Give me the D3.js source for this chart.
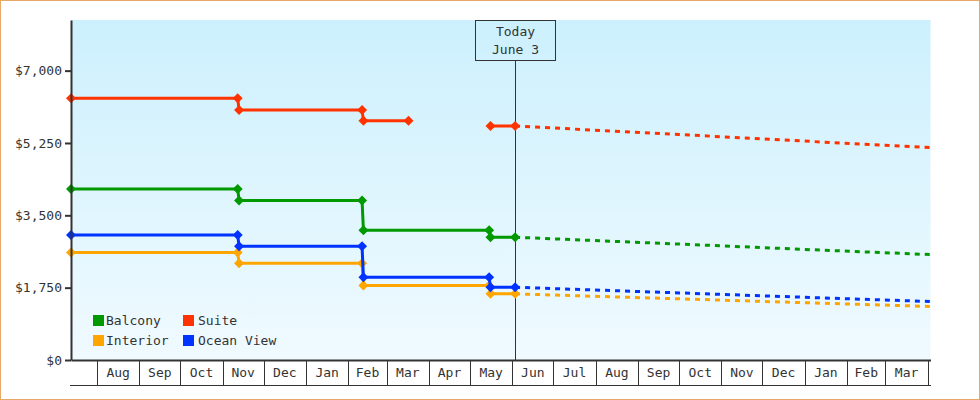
<!DOCTYPE html>
<html>
<head>
<meta charset="utf-8">
<script src="https://cdn.jsdelivr.net/npm/d3@7"></script>
<style>
  html, body { margin: 0; padding: 0; background: #fff; }
  svg { display: block; }
  text { font-family: "DejaVu Sans Mono", monospace; font-size: 13px; fill: #333; }
</style>
</head>
<body>
<svg id="chart" width="980" height="400"></svg>
<script>
// ---- data ----
const historyDates = ["2013-07-13","2013-11-12","2013-11-13","2014-02-11","2014-02-12","2014-05-15","2014-05-16","2014-06-03"];
const balcony      = [4135, 4135, 3860, 3860, 3140, 3140, 2970, 2970];
const interior     = [2600, 2600, 2340, 2340, 1800, 1800, 1600, 1600];
const oceanView    = [3025, 3025, 2750, 2750, 2000, 2000, 1760, 1760];
const suiteDates   = ["2013-07-13","2013-11-12","2013-11-13","2014-02-11","2014-02-12","2014-03-17","2014-04-15","2014-05-16","2014-06-03"];
const suite        = [6330, 6330, 6050, 6050, 5790, 5790, null, 5660, 5660];

const projectionDates = ["2014-06-03","2014-10-01","2015-01-01","2015-04-03"];
const balconyProj  = [2970, 2805, 2675, 2550];
const interiorProj = [1600, 1480, 1386, 1295];
const oceanProj    = [1760, 1623, 1517, 1415];
const suiteProj    = [5660, 5455, 5295, 5140];

const seriesNames  = ["Suite", "Balcony", "Interior", "Ocean View"];
const seriesColors = ["#ff3300", "#009900", "#ffa500", "#0033ff"];
const legendOrder  = ["Balcony", "Suite", "Interior", "Ocean View"];

const yTicks = [0, 1750, 3500, 5250, 7000];
const monthStarts = ["2013-08-01","2013-09-01","2013-10-01","2013-11-01","2013-12-01","2014-01-01","2014-02-01","2014-03-01","2014-04-01","2014-05-01","2014-06-01","2014-07-01","2014-08-01","2014-09-01","2014-10-01","2014-11-01","2014-12-01","2015-01-01","2015-02-01","2015-03-01","2015-04-01"];
const monthLabels = ["Aug","Sep","Oct","Nov","Dec","Jan","Feb","Mar","Apr","May","Jun","Jul","Aug","Sep","Oct","Nov","Dec","Jan","Feb","Mar"];
const domainStart = "2013-07-13", domainEnd = "2015-04-03";
const todayDate = "2014-06-03";
const todayLabel = ["Today", "June 3"];

// ---- setup ----
const parse = d3.timeParse("%Y-%m-%d");
const svg = d3.select("#chart");
const L = 71, R = 930.5, T = 20, B = 360;

const x = d3.scaleTime().domain([parse(domainStart), parse(domainEnd)]).range([L, R]);
const y = d3.scaleLinear().domain([0, 8225]).range([B, T]);

const defs = svg.append("defs");
const grad = defs.append("linearGradient").attr("id", "bg").attr("x1", 0).attr("y1", 0).attr("x2", 0).attr("y2", 1);
grad.append("stop").attr("offset", "0%").attr("stop-color", "#ccf0fd");
grad.append("stop").attr("offset", "100%").attr("stop-color", "#f0faff");

// outer border
svg.append("rect").attr("x", 0.5).attr("y", 0.5).attr("width", 979).attr("height", 399)
  .attr("fill", "#fff").attr("stroke", "#e8a866").attr("stroke-width", 1);

// plot background
svg.append("rect").attr("x", L).attr("y", T).attr("width", R - L).attr("height", B - T)
  .attr("fill", "url(#bg)");

// today line & box
const tx = Math.round(x(parse(todayDate))) + 0.5;
svg.append("line").attr("x1", tx).attr("x2", tx).attr("y1", 60).attr("y2", B)
  .attr("stroke", "#333").attr("stroke-width", 1).attr("shape-rendering", "crispEdges");
svg.append("rect").attr("x", tx - 40).attr("y", T + 0.5).attr("width", 80).attr("height", 40)
  .attr("fill", "none").attr("stroke", "#333").attr("stroke-width", 1).attr("shape-rendering", "crispEdges");
svg.selectAll("text.today").data(todayLabel).enter().append("text").attr("class", "today")
  .attr("x", tx).attr("y", (d, i) => 36 + i * 18).attr("text-anchor", "middle").text(d => d);

// series
const hist = {
  "Suite": suiteDates.map((d, i) => ({date: parse(d), v: suite[i]})),
  "Balcony": historyDates.map((d, i) => ({date: parse(d), v: balcony[i]})),
  "Interior": historyDates.map((d, i) => ({date: parse(d), v: interior[i]})),
  "Ocean View": historyDates.map((d, i) => ({date: parse(d), v: oceanView[i]}))
};
const proj = {
  "Suite": projectionDates.map((d, i) => ({date: parse(d), v: suiteProj[i]})),
  "Balcony": projectionDates.map((d, i) => ({date: parse(d), v: balconyProj[i]})),
  "Interior": projectionDates.map((d, i) => ({date: parse(d), v: interiorProj[i]})),
  "Ocean View": projectionDates.map((d, i) => ({date: parse(d), v: oceanProj[i]}))
};
const color = d3.scaleOrdinal().domain(seriesNames).range(seriesColors);

const line = d3.line().defined(d => d.v != null).x(d => x(d.date)).y(d => y(d.v));
const diamond = "M0,-5L5,0L0,5L-5,0Z";

seriesNames.forEach(name => {
  const g = svg.append("g");
  g.append("path").datum(proj[name]).attr("d", line).attr("fill", "none")
    .attr("stroke", color(name)).attr("stroke-width", 3).attr("stroke-dasharray", "5,5");
  g.append("path").datum(hist[name]).attr("d", line).attr("fill", "none")
    .attr("stroke", color(name)).attr("stroke-width", 3);
  g.selectAll("path.m").data(hist[name].filter(d => d.v != null)).enter().append("path")
    .attr("class", "m").attr("d", diamond)
    .attr("transform", d => `translate(${x(d.date)},${y(d.v)})`)
    .attr("fill", color(name));
});

// y axis
const yAxis = svg.append("g").attr("transform", `translate(${L},0)`)
  .call(d3.axisLeft(y).tickValues(yTicks).tickSize(6).tickSizeOuter(0).tickPadding(3)
    .tickFormat(d => "$" + d3.format(",")(d)));
yAxis.select(".domain").attr("stroke", "#333").attr("stroke-width", 2);
yAxis.selectAll(".tick line").attr("stroke", "#333").attr("stroke-width", 2);
yAxis.selectAll("text").attr("fill", "#333").style("font-family", "DejaVu Sans Mono").style("font-size", "13px");

// x axis: month cells
const xAxis = svg.append("g").attr("transform", `translate(0,${B})`)
  .call(d3.axisBottom(x).tickValues(monthStarts.map(parse)).tickSize(25).tickSizeOuter(0).tickFormat(""));
xAxis.select(".domain").attr("stroke", "#333").attr("stroke-width", 2);
xAxis.selectAll(".tick line").attr("stroke", "#333").attr("stroke-width", 1).attr("shape-rendering", "crispEdges");

svg.append("line").attr("x1", L - 1).attr("x2", R).attr("y1", 385.5).attr("y2", 385.5)
  .attr("stroke", "#333").attr("stroke-width", 1).attr("shape-rendering", "crispEdges");

svg.selectAll("text.month").data(monthLabels).enter().append("text").attr("class", "month")
  .attr("x", (d, i) => (x(parse(monthStarts[i])) + x(parse(monthStarts[i + 1]))) / 2)
  .attr("y", 377).attr("text-anchor", "middle").text(d => d);

// legend
const leg = svg.append("g");
legendOrder.forEach((name, i) => {
  const col = i % 2, row = Math.floor(i / 2);
  const lx = 93 + col * 90, ly = 315 + row * 20;
  leg.append("rect").attr("x", lx).attr("y", ly).attr("width", 11).attr("height", 11).attr("fill", color(name));
  leg.append("text").attr("x", lx + 13 + col * 2).attr("y", ly + 10).text(name);
});
</script>
</body>
</html>
